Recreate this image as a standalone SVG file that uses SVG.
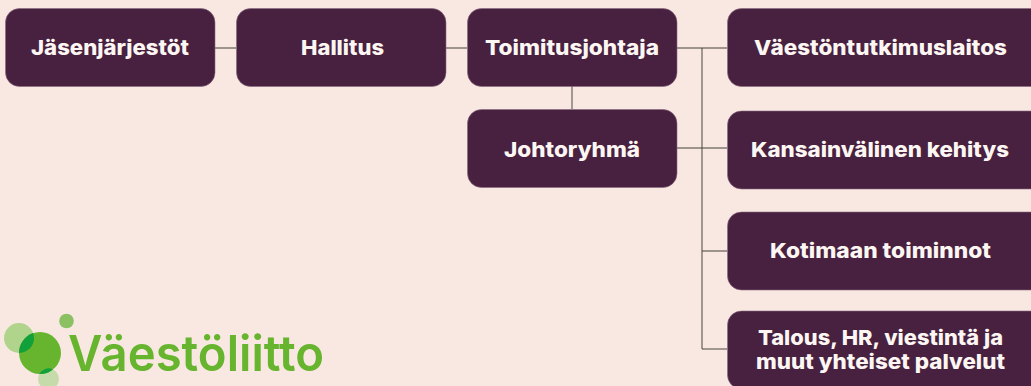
<svg xmlns="http://www.w3.org/2000/svg" width="1031" height="386" viewBox="0 0 1031 386">
<style>
.box{fill:#47213f;stroke:#8a6a82;stroke-width:.6}
.t{font-family:"Inter","Liberation Sans",sans-serif;font-weight:800;font-size:20.5px;fill:#fdf6f3}
.c{stroke:#4a4440;stroke-width:1;fill:none}
.c2{stroke:#7d7872;stroke-width:1.4;fill:none}
.logo{font-family:"Inter","Liberation Sans",sans-serif;font-weight:600;font-size:49.500px;fill:#67b52f}
</style>
<rect width="1031" height="386" fill="#f9e8e2"/>
<g id="connectors">
<path class="c2" d="M215 48H236M446 48H467M677 48H727M677 148H727M702 251H727"/>
<path class="c2" d="M572 86V109"/>
<path class="c" d="M702 48V349H727"/>
</g>
<g id="n1"><rect class="box" x="5.500" y="8.500" width="209.500" height="78" rx="14"/><text class="t" x="31" y="55" textLength="158" lengthAdjust="spacingAndGlyphs">Jäsenjärjestöt</text></g>
<g id="n2"><rect class="box" x="236.500" y="8.500" width="209.500" height="78" rx="14"/><text class="t" x="301" y="55" textLength="83" lengthAdjust="spacingAndGlyphs">Hallitus</text></g>
<g id="n3"><rect class="box" x="467.500" y="8.500" width="209.500" height="78" rx="14"/><text class="t" x="485" y="55" textLength="174" lengthAdjust="spacingAndGlyphs">Toimitusjohtaja</text></g>
<g id="n4"><rect class="box" x="467.500" y="109.500" width="209.500" height="78" rx="14"/><text class="t" x="504" y="157" textLength="136" lengthAdjust="spacingAndGlyphs">Johtoryhmä</text></g>
<g id="n5"><rect class="box" x="727.500" y="8.500" width="320" height="78" rx="14"/><text class="t" x="754" y="55" textLength="253" lengthAdjust="spacingAndGlyphs">Väestöntutkimuslaitos</text></g>
<g id="n6"><rect class="box" x="727.500" y="111" width="320" height="78" rx="14"/><text class="t" x="751" y="157" textLength="258" lengthAdjust="spacingAndGlyphs">Kansainvälinen kehitys</text></g>
<g id="n7"><rect class="box" x="727.500" y="212" width="320" height="78" rx="14"/><text class="t" x="770" y="258" textLength="221" lengthAdjust="spacingAndGlyphs">Kotimaan toiminnot</text></g>
<g id="n8"><rect class="box" x="727.500" y="311" width="320" height="78" rx="14"/><text class="t" x="758" y="345" textLength="245" lengthAdjust="spacingAndGlyphs">Talous, HR, viestintä ja</text><text class="t" x="756" y="369" textLength="249" lengthAdjust="spacingAndGlyphs">muut yhteiset palvelut</text></g>
<g id="logo">
<circle cx="19" cy="338" r="15" fill="#b1d48d"/>
<circle cx="48.500" cy="379" r="10.500" fill="#c5dcaa"/>
<circle cx="66.500" cy="321" r="7.300" fill="#8bc063"/>
<circle cx="40" cy="353" r="21" fill="#67b52f"/>
<path d="M33.200 333.100A15 15 0 0 1 19 353A21 21 0 0 1 33.200 333.100Z" fill="#12a03a"/>
<path d="M53 369.400A21 21 0 0 1 39.200 374A10.500 10.500 0 0 1 53 369.400Z" fill="#12a03a"/>
<text class="logo" x="68" y="371" textLength="256" lengthAdjust="spacingAndGlyphs">Väestöliitto</text>
</g>
</svg>
